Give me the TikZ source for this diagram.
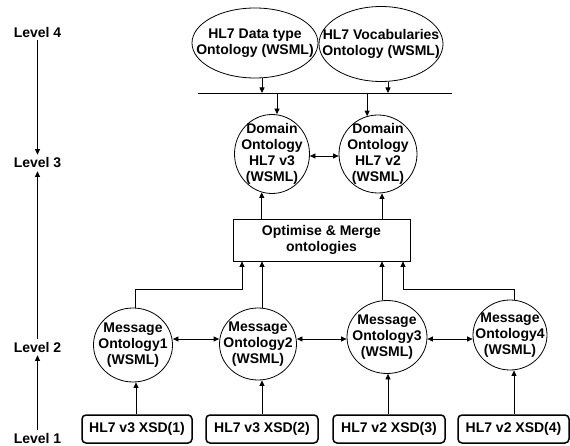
\documentclass[tikz,border=0pt]{standalone}
\usepackage{fontspec}
\setmainfont{Liberation Sans}
\usetikzlibrary{shapes.geometric,arrows.meta}
\begin{document}
\begin{tikzpicture}[x=1pt,y=-1pt,font=\fontsize{14}{16}\selectfont\bfseries]
\tikzset{
 conn/.style={line width=0.8pt},
 arr/.style={conn,-{Triangle[length=5.5pt,width=5pt]}},
 darr/.style={conn,{Triangle[length=5.5pt,width=5pt]}-{Triangle[length=5.5pt,width=5pt]}},
 ell/.style={draw,ellipse,line width=0.8pt,inner sep=0pt},
 txt/.style={align=center,inner sep=0pt},
 xsd/.style={draw,rounded corners=4pt,line width=1.5pt,minimum width=110pt,minimum height=28pt,inner sep=0pt},
 lvl/.style={inner sep=3pt},
 boxstyle/.style={draw,line width=0.8pt,minimum width=177pt,minimum height=42pt,align=center,inner sep=0pt},
}
\useasboundingbox (0,0) rectangle (570,446);
% level labels
\node[lvl] (l4) at (37.5,32) {Level 4};
\node[lvl] (l3) at (37.5,163) {Level 3};
\node[lvl] (l2) at (37.5,347) {Level 2};
\node[lvl] (l1) at (37.5,438) {Level 1};
\draw[arr] (l4) -- (l3);
\draw[arr] (l2) -- (l3);
\draw[arr] (l1) -- (l2);
% level 4 ontologies
\node[ell,minimum width=126pt,minimum height=70pt,label={[txt]center:{HL7 Data type\\Ontology (WSML)}}] (dt) at (255,43) {};
\node[ell,minimum width=124pt,minimum height=75pt,label={[txt]center:{HL7 Vocabularies\\Ontology (WSML)}}] (voc) at (381,44) {};
% domain ontologies
\node[ell,minimum width=75pt,minimum height=79pt,label={[txt]center:{Domain\\Ontology\\HL7 v3\\(WSML)}}] (d3) at (272,154) {};
\node[ell,minimum width=78pt,minimum height=78pt,label={[txt]center:{Domain\\Ontology\\HL7 v2\\(WSML)}}] (d2) at (378,154) {};
% merge box
\node[boxstyle] (opt) at (321.5,240) {Optimise \& Merge\\ontologies};
% message ontologies
\node[ell,minimum width=79pt,minimum height=74pt,label={[txt]center:{Message\\Ontology1\\(WSML)}}] (m1) at (133,345) {};
\node[ell,minimum width=77pt,minimum height=72pt,label={[txt]center:{Message\\Ontology2\\(WSML)}}] (m2) at (258,344) {};
\node[ell,minimum width=80pt,minimum height=73pt,label={[txt]center:{Message\\Ontology3\\(WSML)}}] (m3) at (387,337) {};
\node[ell,minimum width=74pt,minimum height=70pt,label={[txt]center:{Message\\Ontology4\\(WSML)}}] (m4) at (510,335) {};
% XSD boxes
\node[xsd] (x1) at (137,429) {HL7 v3 XSD(1)};
\node[xsd,minimum width=112pt] (x2) at (262,429) {HL7 v3 XSD(2)};
\node[xsd,minimum width=112pt] (x3) at (389,429) {HL7 v2 XSD(3)};
\node[xsd,minimum width=111pt] (x4) at (513.5,429) {HL7 v2 XSD(4)};
% bus
\coordinate (busL) at (198,93);
\coordinate (busR) at (452,93);
\draw[conn] (busL) -- (busR);
\coordinate (dtb) at ([xshift=7pt]dt.south);
\draw[arr] (dtb) -- (dtb |- busL);
\coordinate (vocb) at ([xshift=7pt]voc.south);
\draw[arr] (vocb) -- (vocb |- busL);
\coordinate (d3t) at ([xshift=5pt]d3.north);
\draw[arr] (d3t |- busL) -- (d3t);
\coordinate (d2t) at (d2.106);
\draw[arr] (d2t |- busL) -- (d2t);
\draw[darr] ([yshift=-2pt]d3.east) -- ([yshift=-2pt]d2.west);
% merge to domains
\coordinate (d3b) at (d3.255);
\draw[arr] (d3b |- opt.north) -- (d3b);
\coordinate (d2b) at ([xshift=4pt]d2.south);
\draw[arr] (d2b |- opt.north) -- (d2b);
% messages to merge
\coordinate (m1t) at ([xshift=2pt]m1.north);
\coordinate (j1) at (242,289);
\draw[arr] (m1t) |- (j1) -- (j1 |- opt.south);
\coordinate (m2t) at ([xshift=4pt]m2.north);
\draw[arr] (m2t) -- (m2t |- opt.south);
\coordinate (m3t) at ([xshift=-5pt]m3.north);
\draw[arr] (m3t) -- (m3t |- opt.south);
\coordinate (m4t) at ([xshift=4pt]m4.north);
\coordinate (j4) at (403,289);
\draw[arr] (m4t) |- (j4) -- (j4 |- opt.south);
% message links
\draw[darr] ([yshift=6pt]m1.east) -- ([yshift=5pt]m2.west);
\draw[darr] ([yshift=5pt]m2.east) -- ([yshift=-2pt]m3.west);
\draw[darr] ([yshift=-2pt]m3.east) -- ([yshift=-4pt]m4.west);
% xsd to messages
\coordinate (m1b) at ([xshift=3pt]m1.south);
\draw[arr] (m1b |- x1.north) -- (m1b);
\coordinate (m2b) at ([xshift=4pt]m2.south);
\draw[arr] (m2b |- x2.north) -- (m2b);
\coordinate (m3b) at ([xshift=1pt]m3.south);
\draw[arr] (m3b |- x3.north) -- (m3b);
\coordinate (m4b) at ([xshift=4pt]m4.south);
\draw[arr] (m4b |- x4.north) -- (m4b);
\end{tikzpicture}
\end{document}
